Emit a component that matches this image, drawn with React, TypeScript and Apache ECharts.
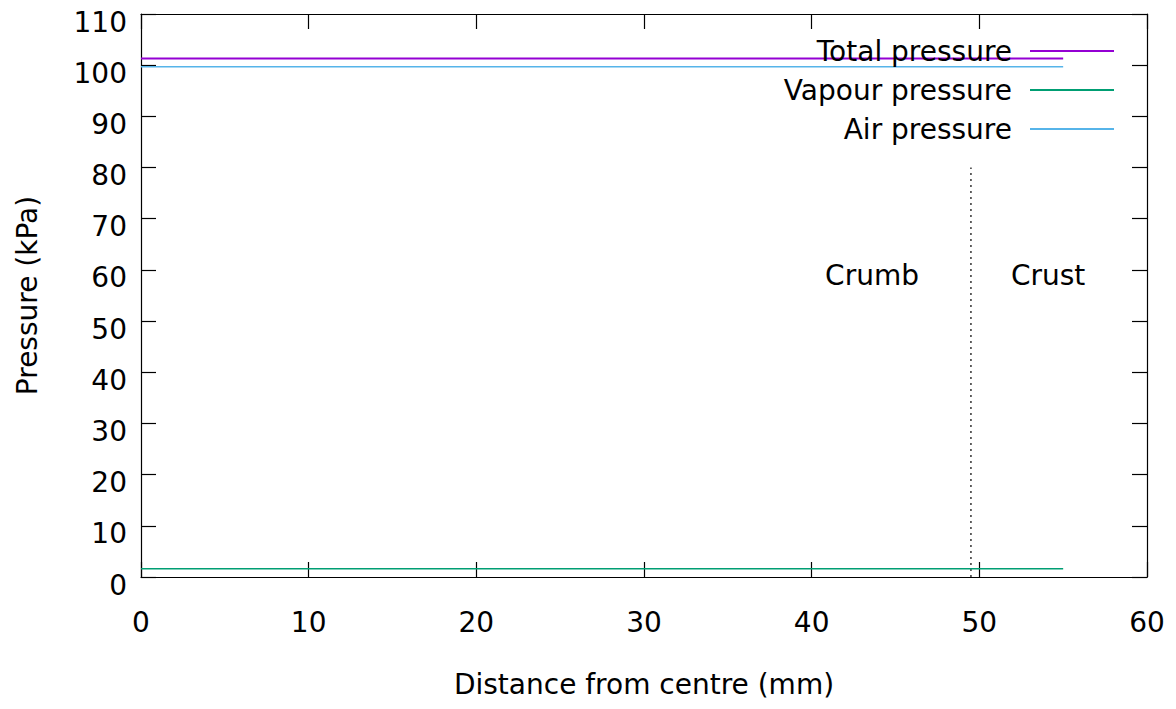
import React, { useEffect, useRef } from "react";
import * as echarts from "echarts";

const xRange = [0, 55];
const totalPressure = [101.3, 101.3];
const vapourPressure = [1.6, 1.6];
const airPressure = [99.7, 99.7];
const boundaryX = 49.5;
const boundaryY = [0, 80];
const regionLabels = [
  { name: "Crumb", x: 43.6, y: 59 },
  { name: "Crust", x: 54.1, y: 59 },
];
const seriesNames = ["Total pressure", "Vapour pressure", "Air pressure"];
const seriesColors = ["#9400d3", "#009e73", "#56b4e9"];

const FONT = "DejaVu Sans";
const FS = 28;

export default function App() {
  const ref = useRef<HTMLDivElement>(null);
  useEffect(() => {
    const chart = echarts.init(ref.current!, null, { renderer: "svg" });
    const values = [totalPressure, vapourPressure, airPressure];
    const lineSeries = seriesNames.map((name, i) => ({
      name,
      type: "line",
      data: xRange.map((x, j) => [x, values[i][j]]),
      symbol: "none",
      showSymbol: false,
      lineStyle: { color: seriesColors[i], width: i === 0 ? 2 : 1.6 },
      itemStyle: { color: seriesColors[i] },
      z: 3 - i,
    }));
    const axisCommon = {
      type: "value",
      axisLine: { show: true, onZero: false, lineStyle: { color: "#000", width: 1.2 } },
      axisTick: { show: true, inside: true, length: 15, lineStyle: { color: "#000", width: 1.2 } },
      splitLine: { show: false },
    };
    chart.setOption({
      animation: false,
      backgroundColor: "#fff",
      textStyle: { fontFamily: FONT },
      grid: { left: 141, right: 29, top: 14, bottom: 132 },
      legend: {
        data: seriesNames.map((n) => ({ name: n, icon: "rect" })),
        orient: "vertical",
        align: "right",
        right: 57,
        top: 32,
        itemWidth: 84,
        itemHeight: 2,
        itemGap: 11,
        textStyle: { fontFamily: FONT, fontSize: FS, color: "#000", padding: [0, 13, 0, 0] },
      },
      xAxis: [
        {
          ...axisCommon,
          min: 0,
          max: 60,
          interval: 10,
          position: "bottom",
          axisLabel: { fontFamily: FONT, fontSize: FS, color: "#000", margin: 31 },
          name: "Distance from centre (mm)",
          nameLocation: "middle",
          nameGap: 93,
          nameTextStyle: { fontFamily: FONT, fontSize: FS, color: "#000" },
        },
        {
          ...axisCommon,
          min: 0,
          max: 60,
          interval: 10,
          position: "top",
          axisLabel: { show: false },
        },
      ],
      yAxis: [
        {
          ...axisCommon,
          min: 0,
          max: 110,
          interval: 10,
          position: "left",
          axisLabel: {
            fontFamily: FONT,
            fontSize: FS,
            color: "#000",
            margin: 14,
            verticalAlign: "top",
            lineHeight: 16,
          },
          name: "Pressure (kPa)",
          nameLocation: "middle",
          nameGap: 100,
          nameTextStyle: { fontFamily: FONT, fontSize: FS, color: "#000" },
        },
        {
          ...axisCommon,
          min: 0,
          max: 110,
          interval: 10,
          position: "right",
          axisLabel: { show: false },
        },
      ],
      series: [
        ...lineSeries,
        {
          name: "boundary",
          type: "line",
          data: boundaryY.map((y) => [boundaryX, y]),
          symbol: "none",
          showSymbol: false,
          lineStyle: { color: "#000", width: 1.2, type: [2, 4] },
          z: 1,
        },
        {
          name: "regions",
          type: "scatter",
          data: regionLabels.map((r) => ({ name: r.name, value: [r.x, r.y] })),
          symbolSize: 0,
          itemStyle: { opacity: 1 },
          label: {
            show: true,
            formatter: (p: any) => p.name,
            position: "inside",
            fontFamily: FONT,
            fontSize: FS,
            color: "#000",
            opacity: 1,
          },
        },
      ],
    });
    return () => chart.dispose();
  }, []);
  return (
    <div
      ref={ref}
      style={{ position: "fixed", left: 0, top: 0, width: 1176, height: 709 }}
    />
  );
}
